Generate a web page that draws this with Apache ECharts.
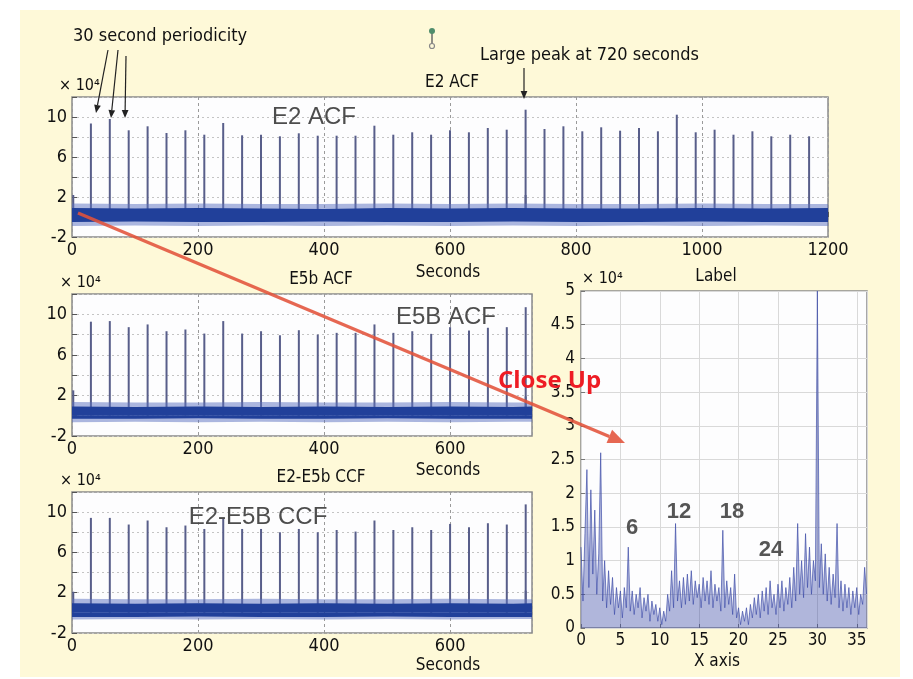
<!DOCTYPE html>
<html>
<head>
<meta charset="utf-8">
<script src="https://cdn.jsdelivr.net/npm/echarts@6/dist/echarts.min.js"></script>
<style>
html, body { margin: 0; padding: 0; background: #fff; }
#panel { position: absolute; left: 20px; top: 10px; width: 880px; height: 667px; background: #fef9d8; }
#main { position: absolute; left: 0; top: 0; width: 913px; height: 679px; }
</style>
</head>
<body>
<div id="panel"></div>
<div id="main"></div>
<script>
// 数据 (x 10^4)
var peakStep = 30; // big peaks every 30 s

var e2Peaks = [9.35, 9.8, 8.67, 9.07, 8.4, 8.67, 8.23, 9.4, 8.17, 8.23, 8.07, 8.37,
  8.13, 8.13, 8.13, 9.13, 8.23, 8.47, 8.23, 8.67,
  8.47, 8.9, 8.73, 10.73, 8.8, 9.07, 8.57, 8.97, 8.63, 8.9, 8.57, 10.23, 8.47, 8.73, 8.23, 8.57, 8.07, 8.23, 8.07];
var e5Peaks = [9.27, 9.33, 8.73, 9.0, 8.33, 8.5, 8.1, 9.33, 8.1, 8.33, 7.93, 8.43,
  8.0, 8.17, 8.17, 9.0, 8.17, 8.33, 8.07, 8.73, 8.4, 8.67, 8.73, 10.7];
var ccfPeaks = [9.43, 9.43, 8.77, 9.17, 8.5, 8.67, 8.33, 9.43, 8.33, 8.33, 8.0, 8.33,
  8.0, 8.23, 8.07, 9.17, 8.23, 8.5, 8.23, 8.83, 8.5, 8.9, 8.77, 10.77];

// small spikes [seconds, value]
var e2Minor = [[2, 2.2], [720, 2.2], [960, 1.9]];
var e5Minor = [[2, 2.5], [720, 1.9]];
var ccfMinor = [[2, 2.1], [720, 2.2]];

// noise band envelope
var e2BandSec = [0, 100, 200, 300, 400, 500, 600, 700, 800, 900, 1000, 1100, 1200];
var e2CoreHi = [0.9, 0.85, 0.9, 0.85, 0.8, 0.9, 0.85, 0.9, 0.85, 0.85, 0.9, 0.85, 0.9];
var e2CoreLo = [-0.5, -0.45, -0.5, -0.5, -0.45, -0.5, -0.5, -0.45, -0.5, -0.5, -0.45, -0.5, -0.5];
var e2FringeHi = [1.35, 1.3, 1.35, 1.3, 1.3, 1.35, 1.3, 1.35, 1.3, 1.3, 1.35, 1.3, 1.3];
var e2FringeLo = [-0.9, -0.85, -0.9, -0.85, -0.9, -0.85, -0.9, -0.85, -0.9, -0.85, -0.9, -0.85, -0.9];

var e5BandSec = [0, 100, 200, 300, 400, 500, 600, 700, 730];
var e5CoreHi = [0.9, 0.85, 0.9, 0.85, 0.9, 0.85, 0.9, 0.85, 0.9];
var e5CoreLo = [-0.3, -0.3, -0.25, -0.3, -0.3, -0.25, -0.3, -0.3, -0.3];
var e5FringeHi = [1.35, 1.3, 1.3, 1.35, 1.3, 1.3, 1.35, 1.3, 1.3];
var e5FringeLo = [-0.65, -0.6, -0.65, -0.6, -0.65, -0.6, -0.65, -0.6, -0.6];

var ccfCoreHi = [0.95, 0.9, 0.95, 0.9, 0.95, 0.9, 0.95, 0.9, 0.95];
var ccfCoreLo = [-0.4, -0.4, -0.35, -0.4, -0.4, -0.35, -0.4, -0.4, -0.4];
var ccfFringeHi = [1.4, 1.35, 1.35, 1.4, 1.35, 1.35, 1.4, 1.35, 1.35];
var ccfFringeLo = [-0.65, -0.6, -0.65, -0.6, -0.65, -0.6, -0.65, -0.6, -0.6];

// close up, sampled every 0.25 s
var closeStep = 0.25;
var closeVals = [
  1.2, 0.4, 1.4, 2.35, 0.6, 2.05, 0.8, 1.75, 0.5, 1.1,
  2.6, 0.4, 1.0, 0.3, 0.85, 0.35, 0.75, 0.2, 0.6, 0.3,
  0.55, 0.15, 0.6, 0.3, 1.2, 0.25, 0.55, 0.2, 0.5, 0.3,
  0.6, 0.15, 0.45, 0.25, 0.5, 0.1, 0.4, 0.2, 0.35, 0.1,
  0.3, 0.05, 0.25, 0.1, 0.5, 0.25, 0.85, 0.3, 1.55, 0.4,
  0.7, 0.3, 0.75, 0.35, 0.8, 0.4, 0.85, 0.35, 0.7, 0.45,
  0.65, 0.3, 0.75, 0.4, 0.7, 0.35, 0.85, 0.3, 0.65, 0.4,
  0.6, 0.25, 1.45, 0.3, 0.7, 0.35, 0.6, 0.2, 0.8, 0.15,
  0.3, 0.05, 0.25, 0.1, 0.3, 0.05, 0.35, 0.15, 0.45, 0.2,
  0.5, 0.15, 0.55, 0.25, 0.6, 0.2, 0.7, 0.3, 0.5, 0.2,
  0.65, 0.3, 0.7, 0.25, 0.6, 0.35, 0.75, 0.3, 0.9, 0.4,
  1.55, 0.5, 1.0, 0.45, 1.4, 0.6, 1.2, 0.5, 1.0, 0.7,
  5.0, 0.6, 1.25, 0.5, 1.1, 0.4, 0.9, 0.35, 0.8, 0.45,
  1.55, 0.3, 0.7, 0.25, 0.65, 0.3, 0.6, 0.2, 0.55, 0.3,
  0.6, 0.2, 0.5, 0.35, 0.9, 0.5
];

var acfYLabels = [-2, 2, 6, 10];

var condFont = '"DejaVu Sans Condensed", "Liberation Sans Narrow", "DejaVu Sans", sans-serif';

function peakBars(heights, minor) {
  return heights.map(function (h, i) { return [peakStep * (i + 1), h]; }).concat(minor);
}

function pairs(sec, vals) {
  return sec.map(function (s, i) { return [s, vals[i]]; });
}

function area(g, sec, vals, color) {
  return {
    type: 'line', xAxisIndex: g, yAxisIndex: g, data: pairs(sec, vals),
    symbol: 'none', silent: true, lineStyle: { width: 0 },
    areaStyle: { color: color, opacity: 1 }
  };
}

function acfSeries(g, peaks, minor, sec, fHi, fLo, cHi, cLo) {
  return [
    { type: 'bar', xAxisIndex: g, yAxisIndex: g, barWidth: 2, silent: true,
      data: peakBars(peaks, minor), itemStyle: { color: '#585e8a' } },
    area(g, sec, fHi, 'rgba(90,112,192,0.5)'),
    area(g, sec, fLo, 'rgba(90,112,192,0.5)'),
    area(g, sec, cHi, '#21409a'),
    area(g, sec, cLo, '#21409a')
  ];
}

function acfX(g, max) {
  return {
    type: 'value', gridIndex: g, min: 0, max: max, interval: 200,
    axisLine: { show: false },
    axisTick: { inside: true, length: 5, lineStyle: { color: '#555' } },
    axisLabel: {
      color: '#111', fontSize: 18, fontFamily: condFont, margin: 4, showMaxLabel: max === 1200,
      formatter: function (v) { return String(v); }
    },
    splitLine: { show: true, lineStyle: { color: '#9a9a9a', type: [3, 3], width: 1 } }
  };
}

function acfY(g) {
  return {
    type: 'value', gridIndex: g, min: -2, max: 12, interval: 2,
    axisLine: { show: false },
    axisTick: { inside: true, length: 5, lineStyle: { color: '#555' } },
    axisLabel: {
      color: '#111', fontSize: 18, fontFamily: condFont, margin: 5,
      formatter: function (v) { return acfYLabels.indexOf(v) >= 0 ? String(v) : ''; }
    },
    splitLine: { show: true, lineStyle: { color: '#c4c4c4', type: [2, 3], width: 1 } }
  };
}

function txt(text, x, y, size, opts) {
  opts = opts || {};
  return {
    type: 'text', x: x, y: y, z: 110, silent: true,
    style: {
      text: text, fill: opts.color || '#111', fontSize: size,
      fontFamily: opts.family || condFont, fontWeight: opts.weight || 'normal',
      align: opts.align || 'center', verticalAlign: 'middle', opacity: opts.opacity || 1
    }
  };
}

function arrow(x1, y1, x2, y2, color, w, head) {
  var ang = Math.atan2(y2 - y1, x2 - x1);
  var bx = x2 - head * Math.cos(ang), by = y2 - head * Math.sin(ang);
  var hw = head * 0.42;
  var px = -Math.sin(ang) * hw, py = Math.cos(ang) * hw;
  return [
    { type: 'line', z: 100, silent: true, shape: { x1: x1, y1: y1, x2: bx, y2: by }, style: { stroke: color, lineWidth: w } },
    { type: 'polygon', z: 100, silent: true, shape: { points: [[x2, y2], [bx + px, by + py], [bx - px, by - py]] }, style: { fill: color } }
  ];
}

var gridBase = { show: true, backgroundColor: '#fdfdfe', borderColor: '#8a8a8a', borderWidth: 1.5 };

var sup = '\u00d7 10\u2074';
var arial = '"Liberation Sans", Arial, sans-serif';

var graphics = [].concat(
  arrow(78, 213, 625, 443, 'rgba(226,82,58,0.88)', 3.2, 17),
  arrow(108, 50, 96, 113, '#222', 1.2, 8),
  arrow(118, 50, 111, 118, '#222', 1.2, 8),
  arrow(126, 56, 125, 118, '#222', 1.2, 8),
  arrow(524, 68, 524, 99, '#222', 1.2, 8),
  [
    txt('30 second periodicity', 73, 36, 18, { align: 'left' }),
    txt('Large peak at 720 seconds', 480, 55, 18, { align: 'left' }),
    txt('E2 ACF', 452, 83, 17),
    txt(sup, 59, 86, 16, { align: 'left' }),
    txt('Seconds', 448, 273, 17),
    txt('E5b ACF', 321, 280, 17),
    txt(sup, 60, 283, 16, { align: 'left' }),
    txt('Seconds', 448, 471, 17),
    txt('E2-E5b CCF', 321, 478, 17),
    txt(sup, 60, 481, 16, { align: 'left' }),
    txt('Seconds', 448, 666, 17),
    txt('Label', 716, 277, 17),
    txt(sup, 582, 279, 16, { align: 'left' }),
    txt('X axis', 717, 662, 17),
    txt('E2 ACF', 314, 117, 24, { family: arial, color: '#4d4d4d' }),
    txt('E5B ACF', 446, 317, 24, { family: arial, color: '#4d4d4d' }),
    txt('E2-E5B CCF', 258, 517, 24, { family: arial, color: '#4d4d4d' }),
    txt('6', 632, 528, 22, { family: arial, color: '#555', weight: 'bold' }),
    txt('12', 679, 512, 22, { family: arial, color: '#555', weight: 'bold' }),
    txt('18', 732, 512, 22, { family: arial, color: '#555', weight: 'bold' }),
    txt('24', 771, 550, 22, { family: arial, color: '#555', weight: 'bold' }),
    txt('Close Up', 498, 381, 24, { family: '"Open Sans", "Liberation Sans", sans-serif', color: '#ee1c24', weight: 'bold', align: 'left' }),
    // little pin icon
    { type: 'line', z: 100, silent: true, shape: { x1: 432, y1: 33, x2: 432, y2: 44 }, style: { stroke: '#6a6a6a', lineWidth: 1.5 } },
    { type: 'circle', z: 101, silent: true, shape: { cx: 432, cy: 31, r: 3 }, style: { fill: '#4f8d6b' } },
    { type: 'circle', z: 101, silent: true, shape: { cx: 432, cy: 46, r: 2.5 }, style: { fill: 'none', stroke: '#888', lineWidth: 1.2 } }
  ]
);

var myChart = echarts.init(document.getElementById('main'));

var option = {
  animation: false,
  backgroundColor: 'transparent',
  grid: [
    Object.assign({ left: 72, top: 97, width: 756, height: 140 }, gridBase),
    Object.assign({ left: 72, top: 294, width: 460, height: 142 }, gridBase),
    Object.assign({ left: 72, top: 492, width: 460, height: 141 }, gridBase),
    Object.assign({ left: 581, top: 291, width: 286, height: 337 }, gridBase)
  ],
  xAxis: [
    acfX(0, 1200), acfX(1, 730), acfX(2, 730),
    {
      type: 'value', gridIndex: 3, min: 0, max: 36.3, interval: 5,
      axisLine: { show: false },
      axisTick: { inside: true, length: 4, lineStyle: { color: '#777' } },
      axisLabel: { color: '#111', fontSize: 17, fontFamily: condFont, margin: 4, showMaxLabel: false },
      splitLine: { show: true, lineStyle: { color: '#d9d9d9', width: 1 } }
    }
  ],
  yAxis: [
    acfY(0), acfY(1), acfY(2),
    {
      type: 'value', gridIndex: 3, min: 0, max: 5, interval: 0.5,
      axisLine: { show: false },
      axisTick: { inside: true, length: 4, lineStyle: { color: '#777' } },
      axisLabel: { color: '#111', fontSize: 17, fontFamily: condFont, margin: 6 },
      splitLine: { show: true, lineStyle: { color: '#d9d9d9', width: 1 } }
    }
  ],
  series: [].concat(
    acfSeries(0, e2Peaks, e2Minor, e2BandSec, e2FringeHi, e2FringeLo, e2CoreHi, e2CoreLo),
    acfSeries(1, e5Peaks, e5Minor, e5BandSec, e5FringeHi, e5FringeLo, e5CoreHi, e5CoreLo),
    acfSeries(2, ccfPeaks, ccfMinor, e5BandSec, ccfFringeHi, ccfFringeLo, ccfCoreHi, ccfCoreLo),
    [{
      type: 'line', xAxisIndex: 3, yAxisIndex: 3, symbol: 'none', silent: true,
      data: closeVals.map(function (v, i) { return [i * closeStep, v]; }),
      lineStyle: { color: '#3d4ba8', width: 0.8, opacity: 0.85 },
      areaStyle: { color: 'rgba(52,68,165,0.55)' }
    }]
  ),
  graphic: graphics
};

myChart.setOption(option);

window.onresize = () => {
  myChart.resize()
}
</script>
</body>
</html>
